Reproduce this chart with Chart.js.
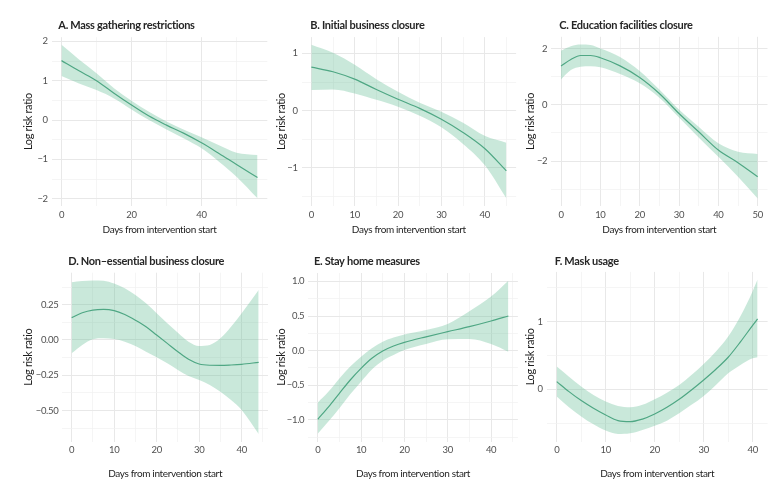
<!DOCTYPE html>
<html>
<head>
<meta charset="utf-8">
<script src="https://cdn.jsdelivr.net/npm/chart.js@4.4.1/dist/chart.umd.min.js"></script>
<style>
html,body{margin:0;padding:0;background:#ffffff;}
#wrap{position:relative;width:783px;height:490px;overflow:hidden;background:#ffffff;}
#wrap canvas{position:absolute;}
</style>
</head>
<body>
<div id="wrap"></div>
<script>
// ---------- text ----------
const panelTitles = [
  'A. Mass gathering restrictions',
  'B. Initial business closure',
  'C. Education facilities closure',
  'D. Non\u2013essential business closure',
  'E. Stay home measures',
  'F. Mask usage'
];
const xAxisTitle = 'Days from intervention start';
const yAxisTitle = 'Log risk ratio';

// ---------- A. Mass gathering restrictions ----------
const daysA  = [0, 5, 10, 15, 20, 25, 30, 35, 40, 45, 50, 56];
const estA   = [1.51, 1.25, 1.00, 0.68, 0.38, 0.10, -0.13, -0.34, -0.58, -0.85, -1.13, -1.46];
const upperA = [1.91, 1.54, 1.19, 0.81, 0.49, 0.21, -0.04, -0.25, -0.44, -0.64, -0.83, -0.89];
const lowerA = [1.12, 0.93, 0.76, 0.55, 0.27, 0.00, -0.24, -0.47, -0.72, -1.06, -1.44, -1.99];
const xTicksA = [0, 20, 40];
const xTickLabelsA = ['0', '20', '40'];
const xMinorA = [10, 30, 50];
const yTicksA = [-2, -1, 0, 1, 2];
const yTickLabelsA = ['\u22122', '\u22121', '0', '1', '2'];
const yMinorA = [-1.5, -0.5, 0.5, 1.5];

// ---------- B. Initial business closure ----------
const daysB  = [0, 5, 10, 15, 20, 25, 30, 35, 40, 45];
const estB   = [0.76, 0.68, 0.55, 0.37, 0.20, 0.04, -0.15, -0.38, -0.66, -1.05];
const upperB = [1.15, 1.01, 0.80, 0.55, 0.33, 0.14, -0.02, -0.21, -0.44, -0.56];
const lowerB = [0.36, 0.37, 0.30, 0.19, 0.07, -0.09, -0.29, -0.58, -0.95, -1.53];
const xTicksB = [0, 10, 20, 30, 40];
const xTickLabelsB = ['0', '10', '20', '30', '40'];
const xMinorB = [5, 15, 25, 35, 45];
const yTicksB = [-1, 0, 1];
const yTickLabelsB = ['\u22121', '0', '1'];
const yMinorB = [-1.5, -0.5, 0.5];

// ---------- C. Education facilities closure ----------
const daysC  = [0, 2.5, 5, 7.5, 10, 15, 20, 25, 30, 35, 40, 45, 50];
const estC   = [1.38, 1.61, 1.75, 1.75, 1.67, 1.38, 0.97, 0.40, -0.31, -0.96, -1.61, -2.06, -2.56];
const upperC = [1.92, 2.08, 2.14, 2.12, 2.00, 1.70, 1.20, 0.54, -0.17, -0.78, -1.37, -1.67, -1.75];
const lowerC = [0.90, 1.23, 1.35, 1.37, 1.33, 1.09, 0.76, 0.25, -0.45, -1.16, -1.85, -2.56, -3.33];
const xTicksC = [0, 10, 20, 30, 40, 50];
const xTickLabelsC = ['0', '10', '20', '30', '40', '50'];
const xMinorC = [5, 15, 25, 35, 45];
const yTicksC = [-2, 0, 2];
const yTickLabelsC = ['\u22122', '0', '2'];
const yMinorC = [-3, -1, 1];

// ---------- D. Non-essential business closure ----------
const daysD  = [0, 2.5, 5, 7.5, 10, 12.5, 15, 17.5, 20, 22.5, 25, 27.5, 30, 32.5, 35, 37.5, 40, 44];
const estD   = [0.158, 0.193, 0.212, 0.217, 0.208, 0.180, 0.140, 0.094, 0.035, -0.024, -0.083, -0.137, -0.170, -0.179, -0.180, -0.177, -0.172, -0.158];
const upperD = [0.408, 0.417, 0.422, 0.420, 0.400, 0.366, 0.318, 0.260, 0.190, 0.118, 0.052, -0.012, -0.042, -0.035, 0.012, 0.094, 0.190, 0.354];
const lowerD = [-0.094, -0.035, 0.005, 0.012, 0.007, -0.012, -0.042, -0.083, -0.123, -0.165, -0.212, -0.255, -0.283, -0.318, -0.366, -0.425, -0.495, -0.665];
const xTicksD = [0, 10, 20, 30, 40];
const xTickLabelsD = ['0', '10', '20', '30', '40'];
const xMinorD = [5, 15, 25, 35, 45];
const yTicksD = [-0.5, -0.25, 0, 0.25];
const yTickLabelsD = ['\u22120.50', '\u22120.25', '0.00', '0.25'];
const yMinorD = [-0.625, -0.375, -0.125, 0.125, 0.375];

// ---------- E. Stay home measures ----------
const daysE  = [0, 2.5, 5, 7.5, 10, 12.5, 15, 17.5, 20, 25, 30, 35, 40, 44];
const estE   = [-0.99, -0.81, -0.615, -0.423, -0.255, -0.11, -0.005, 0.067, 0.12, 0.20, 0.274, 0.346, 0.428, 0.50];
const upperE = [-0.75, -0.59, -0.40, -0.23, -0.087, 0.034, 0.13, 0.19, 0.235, 0.298, 0.385, 0.567, 0.78, 1.01];
const lowerE = [-1.20, -1.02, -0.83, -0.63, -0.447, -0.27, -0.144, -0.063, 0.01, 0.096, 0.163, 0.168, 0.096, -0.014];
const xTicksE = [0, 10, 20, 30, 40];
const xTickLabelsE = ['0', '10', '20', '30', '40'];
const xMinorE = [5, 15, 25, 35, 45];
const yTicksE = [-1, -0.5, 0, 0.5, 1];
const yTickLabelsE = ['\u22121.0', '\u22120.5', '0.0', '0.5', '1.0'];
const yMinorE = [-1.25, -0.75, -0.25, 0.25, 0.75];

// ---------- F. Mask usage ----------
const daysF  = [0, 2.5, 5, 7.5, 10, 12.5, 15, 17.5, 20, 22.5, 25, 27.5, 30, 32.5, 35, 37.5, 40, 41];
const estF   = [0.113, -0.034, -0.167, -0.28, -0.38, -0.463, -0.478, -0.44, -0.365, -0.266, -0.148, -0.01, 0.138, 0.296, 0.473, 0.70, 0.945, 1.04];
const upperF = [0.335, 0.187, 0.04, -0.084, -0.18, -0.246, -0.266, -0.23, -0.148, -0.05, 0.064, 0.21, 0.374, 0.557, 0.778, 1.08, 1.45, 1.62];
const lowerF = [-0.108, -0.266, -0.40, -0.517, -0.61, -0.66, -0.65, -0.60, -0.54, -0.463, -0.355, -0.23, -0.098, 0.064, 0.236, 0.36, 0.458, 0.473];
const xTicksF = [0, 10, 20, 30, 40];
const xTickLabelsF = ['0', '10', '20', '30', '40'];
const xMinorF = [5, 15, 25, 35];
const yTicksF = [0, 1];
const yTickLabelsF = ['0', '1'];
const yMinorF = [-0.5, 0.5, 1.5];

// ---------- styling ----------
const FONT = "Lato, 'Liberation Sans', sans-serif";
const LINE_COLOR = '#4fa784';
const BAND_COLOR = 'rgba(96, 188, 148, 0.34)';
const GRID_MAJOR = '#e8e8e8';
const GRID_MINOR = '#f0f0f0';
const TICK_COLOR = '#505050';
const AXIS_TITLE_COLOR = '#1e1e1e';
const TITLE_COLOR = '#262626';
const X_TITLE_SIZE = 10;
const Y_TITLE_SIZE = 11;
const Y_TITLE_LH = Y_TITLE_SIZE * 1.2;
const X_TITLE_LH = X_TITLE_SIZE * 1.2;
const TICK_SIZE = 9.5;
const TITLE_SIZE = 11;
const TEXT_TRACKING = '-0.35px';
const TITLE_TRACKING = '-0.3px';

// ---------- layout (page pixels) ----------
const layoutSpec = [
  {cx: 0,   cy: 0,   cw: 272, ch: 245, area: {L: 51.7,  T: 37.2,  R: 267.3, B: 206.0}, yTitleX: 28.3,  xTitleY: 230, titleX: 58.3,  titleY: 25.0},
  {cx: 272, cy: 0,   cw: 249, ch: 245, area: {L: 301.6, T: 37.1,  R: 516.1, B: 206.0}, yTitleX: 281.7, xTitleY: 230, titleX: 310.3, titleY: 25.0},
  {cx: 521, cy: 0,   cw: 262, ch: 245, area: {L: 551.2, T: 36.8,  R: 767.5, B: 206.2}, yTitleX: 530.3, xTitleY: 230, titleX: 559.3, titleY: 25.0},
  {cx: 0,   cy: 245, cw: 272, ch: 245, area: {L: 62.3,  T: 272.7, R: 268.0, B: 441.6}, yTitleX: 28.3,  xTitleY: 474, titleX: 68.3,  titleY: 261.5},
  {cx: 272, cy: 245, cw: 249, ch: 245, area: {L: 308.2, T: 273.0, R: 517.9, B: 441.5}, yTitleX: 281.0, xTitleY: 474, titleX: 314.0, titleY: 261.0},
  {cx: 521, cy: 245, cw: 262, ch: 245, area: {L: 546.7, T: 271.9, R: 767.6, B: 441.7}, yTitleX: 530.3, xTitleY: 474, titleX: 554.7, titleY: 261.0}
];

const panels = [
  {days: daysA, est: estA, upper: upperA, lower: lowerA, xTicks: xTicksA, xLabels: xTickLabelsA, xMinor: xMinorA, yTicks: yTicksA, yLabels: yTickLabelsA, yMinor: yMinorA},
  {days: daysB, est: estB, upper: upperB, lower: lowerB, xTicks: xTicksB, xLabels: xTickLabelsB, xMinor: xMinorB, yTicks: yTicksB, yLabels: yTickLabelsB, yMinor: yMinorB},
  {days: daysC, est: estC, upper: upperC, lower: lowerC, xTicks: xTicksC, xLabels: xTickLabelsC, xMinor: xMinorC, yTicks: yTicksC, yLabels: yTickLabelsC, yMinor: yMinorC},
  {days: daysD, est: estD, upper: upperD, lower: lowerD, xTicks: xTicksD, xLabels: xTickLabelsD, xMinor: xMinorD, yTicks: yTicksD, yLabels: yTickLabelsD, yMinor: yMinorD},
  {days: daysE, est: estE, upper: upperE, lower: lowerE, xTicks: xTicksE, xLabels: xTickLabelsE, xMinor: xMinorE, yTicks: yTicksE, yLabels: yTickLabelsE, yMinor: yMinorE},
  {days: daysF, est: estF, upper: upperF, lower: lowerF, xTicks: xTicksF, xLabels: xTickLabelsF, xMinor: xMinorF, yTicks: yTicksF, yLabels: yTickLabelsF, yMinor: yMinorF}
];

// slightly tighter text tracking (the original uses a condensed face)
const trackingPlugin = {
  id: 'tracking',
  beforeDraw(chart) {
    if ('letterSpacing' in chart.ctx) chart.ctx.letterSpacing = TEXT_TRACKING;
  }
};

// panel title plugin (draws the panel heading at its place)
const panelTitlePlugin = {
  id: 'panelTitle',
  afterDraw(chart, args, opts) {
    const c = chart.ctx;
    c.save();
    if ('letterSpacing' in c) c.letterSpacing = TITLE_TRACKING;
    c.font = 'bold ' + TITLE_SIZE + 'px ' + FONT;
    c.fillStyle = TITLE_COLOR;
    c.textAlign = 'left';
    c.textBaseline = 'middle';
    c.fillText(opts.text, opts.x, opts.y);
    c.restore();
  }
};

function expandRange(vals) {
  const lo = Math.min(...vals), hi = Math.max(...vals);
  const pad = (hi - lo) * 0.05;
  return [lo - pad, hi + pad];
}

const wrap = document.getElementById('wrap');

panels.forEach((p, idx) => {
  const L = layoutSpec[idx];
  const canvas = document.createElement('canvas');
  canvas.width = L.cw;
  canvas.height = L.ch;
  canvas.style.left = L.cx + 'px';
  canvas.style.top = L.cy + 'px';
  canvas.style.width = L.cw + 'px';
  canvas.style.height = L.ch + 'px';
  wrap.appendChild(canvas);

  const padL = L.yTitleX - L.cx - Y_TITLE_LH / 2;
  const yW = L.area.L - L.cx - padL;
  const padR = L.cx + L.cw - L.area.R;
  const padT = L.area.T - L.cy;
  const padB = L.cy + L.ch - (L.xTitleY + X_TITLE_LH / 2);
  const xH = (L.cy + L.ch - padB) - L.area.B;

  const xr = expandRange(p.days);
  const yr = expandRange(p.lower.concat(p.upper));

  const xGrid = p.xTicks.concat(p.xMinor).sort((a, b) => a - b);
  const yGrid = p.yTicks.concat(p.yMinor).sort((a, b) => a - b);

  const toXY = arr => p.days.map((d, i) => ({x: d, y: arr[i]}));

  const gridColor = majors => ctx => (ctx.tick && majors.includes(ctx.tick.value)) ? GRID_MAJOR : GRID_MINOR;
  const gridWidth = majors => ctx => (ctx.tick && majors.includes(ctx.tick.value)) ? 1 : 0.7;

  new Chart(canvas, {
    type: 'line',
    data: {
      datasets: [
        {label: 'Estimate', data: toXY(p.est), borderColor: LINE_COLOR, borderWidth: 1.2,
         pointRadius: 0, fill: false, cubicInterpolationMode: 'monotone', order: 0},
        {label: 'Upper 95% CI', data: toXY(p.upper), borderColor: 'rgba(0,0,0,0)', borderWidth: 0,
         backgroundColor: BAND_COLOR, pointRadius: 0, fill: '+1', cubicInterpolationMode: 'monotone', order: 1},
        {label: 'Lower 95% CI', data: toXY(p.lower), borderColor: 'rgba(0,0,0,0)', borderWidth: 0,
         pointRadius: 0, fill: false, cubicInterpolationMode: 'monotone', order: 2}
      ]
    },
    options: {
      responsive: false,
      animation: false,
      devicePixelRatio: 1,
      layout: {padding: {left: padL, right: padR, top: padT, bottom: padB}},
      plugins: {
        legend: {display: false},
        tooltip: {enabled: false},
        title: {display: false},
        panelTitle: {text: panelTitles[idx], x: L.titleX - L.cx, y: L.titleY - L.cy}
      },
      scales: {
        x: {
          type: 'linear',
          min: xr[0], max: xr[1],
          afterBuildTicks: s => { s.ticks = xGrid.map(v => ({value: v})); },
          afterFit: s => { s.height = xH; },
          ticks: {
            autoSkip: false, maxRotation: 0, padding: 3, color: TICK_COLOR,
            font: {family: FONT, size: TICK_SIZE},
            callback: v => { const i = p.xTicks.indexOf(v); return i >= 0 ? p.xLabels[i] : ''; }
          },
          grid: {drawTicks: false, color: gridColor(p.xTicks), lineWidth: gridWidth(p.xTicks)},
          border: {display: false},
          title: {display: true, text: xAxisTitle, color: AXIS_TITLE_COLOR, padding: 0,
                  font: {family: FONT, size: X_TITLE_SIZE, lineHeight: 1.2}}
        },
        y: {
          type: 'linear',
          min: yr[0], max: yr[1],
          afterBuildTicks: s => { s.ticks = yGrid.map(v => ({value: v})); },
          afterFit: s => { s.width = yW; },
          ticks: {
            autoSkip: false, padding: 4, color: TICK_COLOR,
            font: {family: FONT, size: TICK_SIZE},
            callback: v => { const i = p.yTicks.indexOf(v); return i >= 0 ? p.yLabels[i] : ''; }
          },
          grid: {drawTicks: false, color: gridColor(p.yTicks), lineWidth: gridWidth(p.yTicks)},
          border: {display: false},
          title: {display: true, text: yAxisTitle, color: AXIS_TITLE_COLOR, padding: 0,
                  font: {family: FONT, size: Y_TITLE_SIZE, lineHeight: 1.2}}
        }
      }
    },
    plugins: [trackingPlugin, panelTitlePlugin]
  });
});
</script>
</body>
</html>
